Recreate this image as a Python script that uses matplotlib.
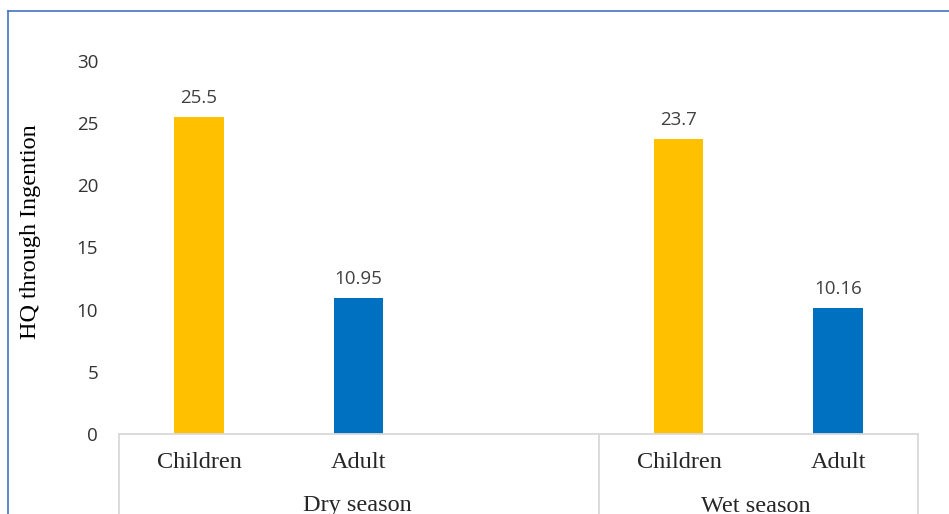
import numpy as np
import matplotlib.pyplot as plt
from matplotlib.lines import Line2D

# HQ values by season and age group
seasons = ["Dry season", "Wet season"]
groups = ["Children", "Adult"]
hq_dry = [25.5, 10.95]
hq_wet = [23.7, 10.16]
bar_colors = ["#FFC000", "#0070C0"]

W, H = 949, 514
fig = plt.figure(figsize=(W / 100, H / 100), dpi=100)

# plot area in pixels
x0, x1 = 119, 918
y0, ytop = 434, 61
ax = fig.add_axes([x0 / W, 1 - y0 / H, (x1 - x0) / W, (y0 - ytop) / H])

# five slots: dry children, dry adult, empty, wet children, wet adult
pos_dry = np.array([0, 1])
pos_wet = np.array([3, 4])
vals = hq_dry + hq_wet
pos = np.concatenate([pos_dry, pos_wet])
cols = bar_colors * 2
ax.bar(pos, vals, width=0.31, color=cols, zorder=2)

for p, v in zip(pos, vals):
    ax.text(p, v + 0.8, f"{v:g}", ha="center", va="bottom",
            fontsize=13.5, family="Open Sans", color="#404040")

ax.set_xlim(-0.5, 4.5)
ax.set_ylim(0, 30)
ax.set_yticks(range(0, 31, 5))
ax.tick_params(axis="y", length=0, pad=15, labelsize=13.5, labelcolor="#333333")
for lab in ax.get_yticklabels():
    lab.set_family("Open Sans")
ax.set_xticks([])
for s in ["top", "right", "left"]:
    ax.spines[s].set_visible(False)
ax.spines["bottom"].set_color("#D9D9D9")
ax.spines["bottom"].set_linewidth(1.3)

fig.text(31 / W, 1 - 232 / H, "HQ through Ingention", rotation=90,
         ha="center", va="center", family="Liberation Serif", fontsize=17.4,
         color="#000000")

# category labels below the axis
for p, g in zip(pos, groups * 2):
    fig.text((x0 + (p + 0.5) * 160) / W, 1 - 463 / H, g, ha="center", va="center",
             family="Liberation Serif", fontsize=17.5, color="#262626")
for cx, s in zip([357, 756], seasons):
    fig.text(cx / W, 1 - 506 / H, s, ha="center", va="center",
             family="Liberation Serif", fontsize=17.5, color="#262626")

# group separators
for sx in [x0, 599, x1]:
    fig.add_artist(Line2D([sx / W, sx / W], [1 - y0 / H, 0], color="#D9D9D9", lw=1.3))

# outer chart border
fig.add_artist(Line2D([7.5 / W, 7.5 / W], [0, 1 - 10.5 / H], color="#4472C4", lw=1.2))
fig.add_artist(Line2D([7.5 / W, 1], [1 - 10.5 / H, 1 - 10.5 / H], color="#4472C4", lw=1.2))

fig.savefig("out.png", dpi=100)
